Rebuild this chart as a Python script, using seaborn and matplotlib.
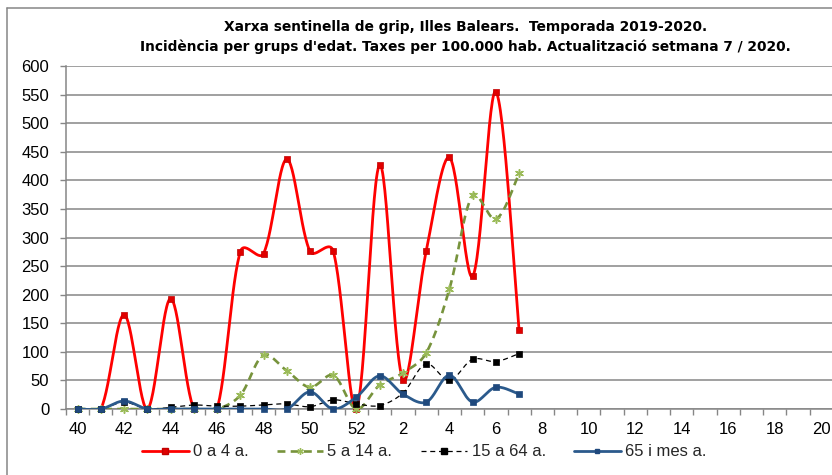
import numpy as np
import pandas as pd
import matplotlib
matplotlib.use("Agg")
import matplotlib.pyplot as plt
from matplotlib.lines import Line2D
import seaborn as sns

# ---- data ----
week_labels = [str(w) for w in range(40, 53)] + [str(w) for w in range(1, 21)]
tick_labels = week_labels[::2]
series_names = ["0 a 4 a.", "5 a 14 a.", "15 a 64 a.", "65 i mes a."]
v_0_4 = [0, 0, 165, 0, 193, 0, 0, 275, 272, 437, 276, 276, 0, 427, 51, 276, 440, 232, 555, 138]
v_5_14 = [0, 0, 0, 0, 0, 0, 0, 24, 94, 67, 38, 59, 0, 42, 63, 98, 210, 374, 332, 412]
v_15_64 = [0, 0, 12, 0, 3, 7, 5, 5, 7, 9, 4, 16, 9, 6, 28, 79, 50, 87, 83, 97]
v_65 = [0, 0, 14, 0, 0, 0, 0, 0, 0, 0, 30, 0, 21, 58, 26, 12, 59, 12, 38, 26]
title_1 = "Xarxa sentinella de grip, Illes Balears.  Temporada 2019-2020."
title_2 = "Incidència per grups d'edat. Taxes per 100.000 hab. Actualització setmana 7 / 2020."

sns.set_theme(style="white")
plt.rcParams["font.family"] = ["Liberation Sans", "DejaVu Sans"]

W, H = 832, 475
fig = plt.figure(figsize=(W / 100, H / 100), dpi=100)
ax = fig.add_axes([66 / W, 1 - 409 / H, (834 - 66) / W, (409 - 66) / H])

PX_X = 23.2   # pixels per category
PX_Y = 0.572  # pixels per unit


def smooth(y, k=1 / 6, n=30):
    """Excel-like smoothed line: cubic Bezier, tangents partly scaled by chord lengths (pixel space)."""
    y = np.asarray(y, float)
    x = np.arange(len(y), dtype=float)
    P = np.column_stack([x * PX_X, y * PX_Y])
    m = len(P)
    out = []
    for i in range(m - 1):
        p1, p2 = P[i], P[i + 1]
        p0 = P[max(i - 1, 0)]
        p3 = P[min(i + 2, m - 1)]
        d01 = np.linalg.norm(p1 - p0)
        d12 = np.linalg.norm(p2 - p1)
        d23 = np.linalg.norm(p3 - p2)
        f1 = 2 * d12 / (d01 + d12) if (d01 + d12) > 0 else 0
        f2 = 2 * d12 / (d12 + d23) if (d12 + d23) > 0 else 0
        f1 = 0.35 + 0.65 * min(f1, 1.3)
        f2 = 0.35 + 0.65 * min(f2, 1.3)
        c1 = p1 + (p2 - p0) * k * f1
        c2 = p2 - (p3 - p1) * k * f2
        t = np.linspace(0, 1, n, endpoint=(i == m - 2))[:, None]
        seg = ((1 - t) ** 3) * p1 + 3 * ((1 - t) ** 2) * t * c1 + 3 * (1 - t) * t ** 2 * c2 + t ** 3 * p2
        out.append(seg)
    out = np.vstack(out)
    return out[:, 0] / PX_X, out[:, 1] / PX_Y


styles = [
    dict(vals=v_0_4, color="#FF0000", lw=2.0, marker="s", ms=4.6, mfc="#E00000", mec="#C00000", dashes=None),
    dict(vals=v_5_14, color="#77933C", lw=1.9, marker=(6, 2, 0), ms=5.5, mfc="#9BBB59", mec="#9BBB59", dashes=(3, 2)),
    dict(vals=v_15_64, color="#000000", lw=0.9, marker="s", ms=4.3, mfc="#000000", mec="#000000", dashes=(4, 3)),
    dict(vals=v_65, color="#2B5A8C", lw=2.0, marker="s", ms=4.0, mfc="#1F497D", mec="#1F497D", dashes=None),
]

handles = []
for z, (name, st) in enumerate(zip(series_names, styles)):
    xs, ys = smooth(st["vals"])
    sns.lineplot(x=xs, y=ys, ax=ax, color=st["color"], linewidth=st["lw"], sort=False,
                 estimator=None, zorder=3 + z)
    line = ax.lines[-1]
    if st["dashes"] is not None:
        line.set_dashes(st["dashes"])
    idx = np.arange(len(st["vals"]))
    if st["marker"] == "s":
        sns.scatterplot(x=idx, y=st["vals"], ax=ax, marker="s", s=st["ms"] ** 2,
                        color=st["mfc"], edgecolor=st["mec"], linewidth=0.5, zorder=3.5 + z, clip_on=False)
    else:
        sns.scatterplot(x=idx, y=st["vals"], ax=ax, marker=st["marker"], s=st["ms"] ** 2,
                        color=st["mfc"], linewidth=1.1, zorder=3.5 + z, clip_on=False)
    h = Line2D([], [], color=st["color"], lw=st["lw"], marker=st["marker"],
               ms=st["ms"] * 0.85, mfc=st["mfc"], mec=st["mec"],
               ls="--" if st["dashes"] else "-")
    if st["dashes"]:
        h.set_dashes(st["dashes"])
    handles.append(h)

ax.set_xlim(-0.5, 32.55)
ax.set_ylim(0, 600)
ax.set_yticks(np.arange(0, 601, 50))
ax.set_yticklabels([str(v) for v in range(0, 601, 50)])
ax.set_xticks(np.arange(0, 33, 2))
ax.set_xticklabels(tick_labels)
ax.set_xticks(np.arange(-0.5, 33, 1), minor=True)
ax.yaxis.grid(True, color="#868686", linewidth=1.1)
ax.xaxis.grid(False)
ax.set_axisbelow(True)
for s in ["top", "right"]:
    ax.spines[s].set_visible(False)
for s in ["left", "bottom"]:
    ax.spines[s].set_color("#868686")
    ax.spines[s].set_linewidth(1.1)
ax.tick_params(axis="x", which="major", length=0, pad=9, labelsize=12, colors="#000000")
ax.tick_params(axis="x", which="minor", length=4, width=1, color="#868686", direction="out", bottom=True)
ax.tick_params(axis="y", which="major", length=4, width=1, color="#868686", direction="out",
               left=True, pad=8, labelsize=12, labelcolor="#000000")
ax.set_xlabel("")
ax.set_ylabel("")
ax.patch.set_alpha(0)

# title
t1 = fig.text(466 / W, 1 - 27 / H, title_1, ha="center", va="center", fontweight="bold",
              family=["DejaVu Sans"], fontsize=11, color="#000000")
t2 = fig.text(465 / W, 1 - 47 / H, title_2, ha="center", va="center", fontweight="bold",
              family=["DejaVu Sans"], fontsize=11, color="#000000")
fig.canvas.draw()
r = fig.canvas.get_renderer()
w2 = t2.get_window_extent(r).width
fs = 11 * 650 / w2
t1.set_fontsize(fs)
t2.set_fontsize(fs)

# chart border
fig.add_artist(Line2D([7 / W, 7 / W], [0, 1 - 8 / H], transform=fig.transFigure, color="#868686", lw=1.1))
fig.add_artist(Line2D([7 / W, 1], [1 - 8 / H, 1 - 8 / H], transform=fig.transFigure, color="#868686", lw=1.1))

fig.legend(handles, series_names, loc="center", bbox_to_anchor=(424 / W, 1 - 452 / H), ncol=4,
           frameon=False, numpoints=1, handlelength=2.8, handletextpad=0.25, columnspacing=1.7,
           fontsize=12, borderaxespad=0)

fig.savefig("out.png", dpi=100)
